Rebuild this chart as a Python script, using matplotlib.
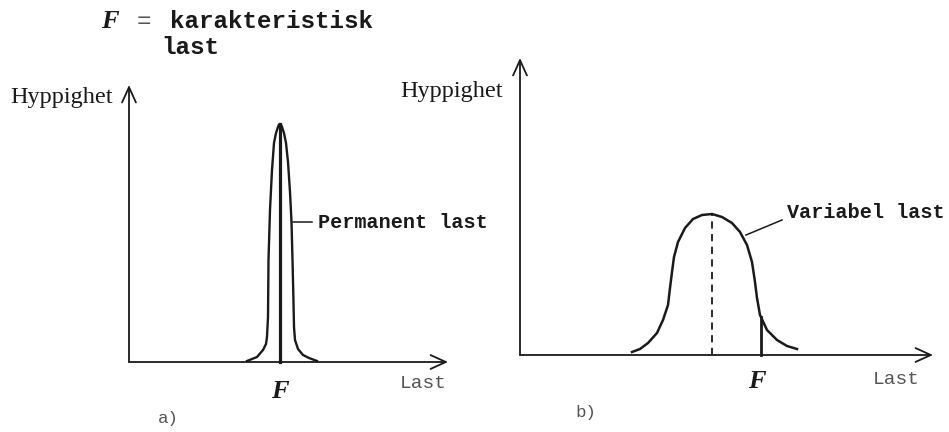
"""Two load distributions: permanent (narrow) and variable (wide) load, with characteristic value F."""
import numpy as np
import matplotlib
matplotlib.use("Agg")
import matplotlib.pyplot as plt

# ---- data (units: px from each panel's origin) ----
# panel a: permanent load, narrow peak
perm_x = [118, 123, 128, 134, 137, 138, 139, 139.5, 141, 143, 145, 147, 149, 150, 151,
          152, 153, 155, 157, 159, 161, 162.5, 163.5, 164.5, 165, 166, 169, 174, 180, 188]
perm_y = [1, 3, 5, 12, 18, 25, 45, 102, 152, 192, 219, 229, 235, 237.5, 238,
          237.5, 235, 229, 219, 200, 170, 140, 102, 60, 35, 22, 13, 7, 4, 1]
perm_F = 151          # characteristic load (= mean)
perm_top = 238

# panel b: variable load, wide bell
var_x = [112, 120, 128, 137, 143, 148, 150, 152, 154, 158, 165, 173, 182, 192,
         202, 212, 220, 227, 232, 235, 237, 240, 247, 257, 267, 277]
var_y = [3, 6, 12, 22, 35, 50, 67, 83, 98, 113, 127, 136, 140, 141,
         138, 132, 123, 110, 93, 73, 57, 40, 25, 15, 9, 6]
var_mean = 192
var_top = 141
var_F = 241
var_F_h = 38

ink = "#1a1a1a"
soft = "#555555"
mono = "Liberation Mono"
serif = "Liberation Serif"

fig = plt.figure(figsize=(9.49, 4.32), dpi=100)
ax_a = fig.add_axes([0, 0, 474 / 949, 1])
ax_b = fig.add_axes([474 / 949, 0, 475 / 949, 1])
ax_a.set_xlim(-129, 345); ax_a.set_ylim(-70, 362)
ax_b.set_xlim(-46, 429); ax_b.set_ylim(-77, 355)

arrow = dict(arrowstyle="->,head_length=0.55,head_width=0.25", lw=1.3, color=ink,
             shrinkA=0, shrinkB=0, mutation_scale=20)


def axes_arrows(ax, xmax, ymax):
    ax.annotate("", xy=(xmax, 0), xytext=(0, 0), arrowprops=arrow)
    ax.annotate("", xy=(0, ymax), xytext=(0, 0), arrowprops=arrow)


# ---- panel a ----
axes_arrows(ax_a, 319, 277)
ax_a.plot(perm_x, perm_y, color=ink, lw=1.7, solid_joinstyle="round")
ax_a.plot([perm_F, perm_F], [0, perm_top], color=ink, lw=2.3)
ax_a.plot([164, 183], [140, 140], color=ink, lw=1.1)
ax_a.text(189, 140, "Permanent last", family=mono, weight="bold", fontsize=14.5,
          va="center", color=ink)
ax_a.text(-119, 264, "Hyppighet", family=serif, fontsize=17.5, va="center", color=ink)
ax_a.text(perm_F, -30, "F", family=serif, style="italic", weight="bold", fontsize=19,
          ha="center", va="center", color=ink)
ax_a.text(271, -22, "Last", family=mono, fontsize=14, va="center", color=soft)
ax_a.text(29, -56, "a)", family=mono, fontsize=12.5, va="center", color=soft)

ax_a.text(-28, 340, "F", family=serif, style="italic", weight="bold", fontsize=19,
          va="center", color=ink)
ax_a.text(8, 340, "=", family=mono, fontsize=17.5, va="center", color=soft)
ax_a.text(41, 340, "karakteristisk", family=mono, weight="bold", fontsize=17.5,
          va="center", color=ink)
ax_a.text(32, 314, "last", family=mono, weight="bold", fontsize=17.5,
          va="center", color=ink)

# ---- panel b ----
axes_arrows(ax_b, 413, 297)
ax_b.plot(var_x, var_y, color=ink, lw=1.8, solid_joinstyle="round")
ax_b.plot([var_mean, var_mean], [0, var_top], color=ink, lw=1.3, ls=(0, (4, 3)))
ax_b.plot([var_F, var_F], [0, var_F_h], color=ink, lw=2.0)
ax_b.plot([226, 262], [120, 135], color=ink, lw=1.1)
ax_b.text(267, 142, "Variabel last", family=mono, weight="bold", fontsize=14.5,
          va="center", color=ink)
ax_b.text(-17, 263, "Hyppighet", family=serif, fontsize=17.5, ha="right", va="center",
          color=ink)
ax_b.text(237, -27, "F", family=serif, style="italic", weight="bold", fontsize=19,
          ha="center", va="center", color=ink)
ax_b.text(353, -25, "Last", family=mono, fontsize=14, va="center", color=soft)
ax_b.text(55, -57, "b)", family=mono, fontsize=12.5, va="center", color=soft)

for ax in (ax_a, ax_b):
    ax.axis("off")

fig.savefig("out.png", dpi=100)
